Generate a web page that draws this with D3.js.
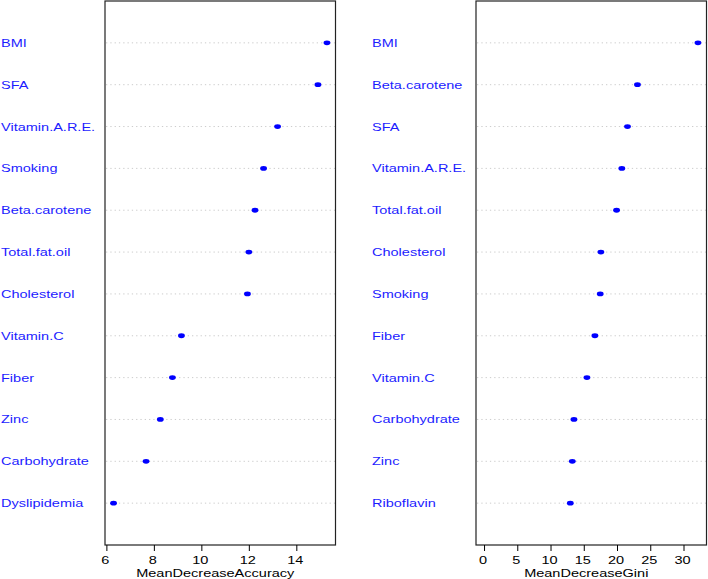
<!DOCTYPE html>
<html>
<head>
<meta charset="utf-8">
<script src="https://cdn.jsdelivr.net/npm/d3@7"></script>
<style>
  body { margin: 0; background: #fff; }
  text { font-family: "Liberation Sans", Arial, sans-serif; font-size: 11px; }
</style>
</head>
<body>
<script>
// variable importance
const accLabels = ["BMI", "SFA", "Vitamin.A.R.E.", "Smoking", "Beta.carotene", "Total.fat.oil",
  "Cholesterol", "Vitamin.C", "Fiber", "Zinc", "Carbohydrate", "Dyslipidemia"];
const accValues = [15.27, 14.89, 13.19, 12.60, 12.24, 11.98, 11.92, 9.14, 8.76, 8.25, 7.65, 6.28];
const accTicks = [6, 8, 10, 12, 14];

const giniLabels = ["BMI", "Beta.carotene", "SFA", "Vitamin.A.R.E.", "Total.fat.oil", "Cholesterol",
  "Smoking", "Fiber", "Vitamin.C", "Carbohydrate", "Zinc", "Riboflavin"];
const giniValues = [32.1, 23.0, 21.5, 20.65, 19.86, 17.5, 17.4, 16.6, 15.4, 13.45, 13.2, 12.9];
const giniTicks = [0, 5, 10, 15, 20, 25, 30];

const W = 708, H = 579;
const SX = 1.32; // the reference text is stretched sideways

const svg = d3.select("body").append("svg")
  .attr("width", W)
  .attr("height", H);

function panel(opts) {
  const {labels, values, ticks, domain, left, right, labelX, title} = opts;
  const top = 1, bottom = 545;
  const n = labels.length;

  const x = d3.scaleLinear().domain(domain).range([left, right]);
  // dotchart style rows: first label at the top
  const y = d3.scaleLinear().domain([n + 1, 0]).range([top, bottom]);
  const row = i => y(n - i);

  const g = svg.append("g");

  // dotted guide lines
  g.selectAll("line.guide")
    .data(values)
    .enter().append("line")
    .attr("class", "guide")
    .attr("x1", left + 1)
    .attr("x2", right)
    .attr("y1", (d, i) => row(i))
    .attr("y2", (d, i) => row(i))
    .attr("stroke", "#cccccc")
    .attr("stroke-width", 1)
    .attr("stroke-dasharray", "1.3,3");

  // points
  g.selectAll("ellipse")
    .data(values)
    .enter().append("ellipse")
    .attr("cx", d => x(d))
    .attr("cy", (d, i) => row(i))
    .attr("rx", 3.4)
    .attr("ry", 2.4)
    .attr("fill", "#0000ff");

  // row labels
  g.selectAll("text.lab")
    .data(labels)
    .enter().append("text")
    .attr("class", "lab")
    .attr("transform", (d, i) => `translate(${labelX},${row(i) + 4}) scale(${SX},1)`)
    .attr("fill", "#1c1cff")
    .text(d => d);

  // box
  g.append("rect")
    .attr("x", left)
    .attr("y", top)
    .attr("width", right - left)
    .attr("height", bottom - top)
    .attr("fill", "none")
    .attr("stroke", "#222")
    .attr("stroke-width", 1.2);

  // bottom axis
  const ax = g.append("g");
  ax.selectAll("line")
    .data(ticks)
    .enter().append("line")
    .attr("x1", d => x(d))
    .attr("x2", d => x(d))
    .attr("y1", bottom)
    .attr("y2", bottom + 6)
    .attr("stroke", "#000");
  ax.selectAll("text")
    .data(ticks)
    .enter().append("text")
    .attr("transform", d => `translate(${x(d) - 1.5},564) scale(${SX},1)`)
    .attr("text-anchor", "middle")
    .attr("fill", "#000")
    .text(d => d);

  g.append("text")
    .attr("transform", `translate(${(left + right) / 2 - 5},577) scale(${SX},1)`)
    .attr("text-anchor", "middle")
    .attr("fill", "#000")
    .text(title);
}

// accuracy: range extended by 4% like dotchart
const aMin = d3.min(accValues), aMax = d3.max(accValues), aPad = (aMax - aMin) * 0.04;
panel({
  labels: accLabels, values: accValues, ticks: accTicks,
  domain: [aMin - aPad, aMax + aPad],
  left: 105, right: 335.5, labelX: 1,
  title: "MeanDecreaseAccuracy"
});

// gini: starts from zero, then extended by 4%
const gMax = d3.max(giniValues), gPad = gMax * 0.04;
panel({
  labels: giniLabels, values: giniValues, ticks: giniTicks,
  domain: [0 - gPad, gMax + gPad],
  left: 476, right: 706.5, labelX: 372,
  title: "MeanDecreaseGini"
});
</script>
</body>
</html>
